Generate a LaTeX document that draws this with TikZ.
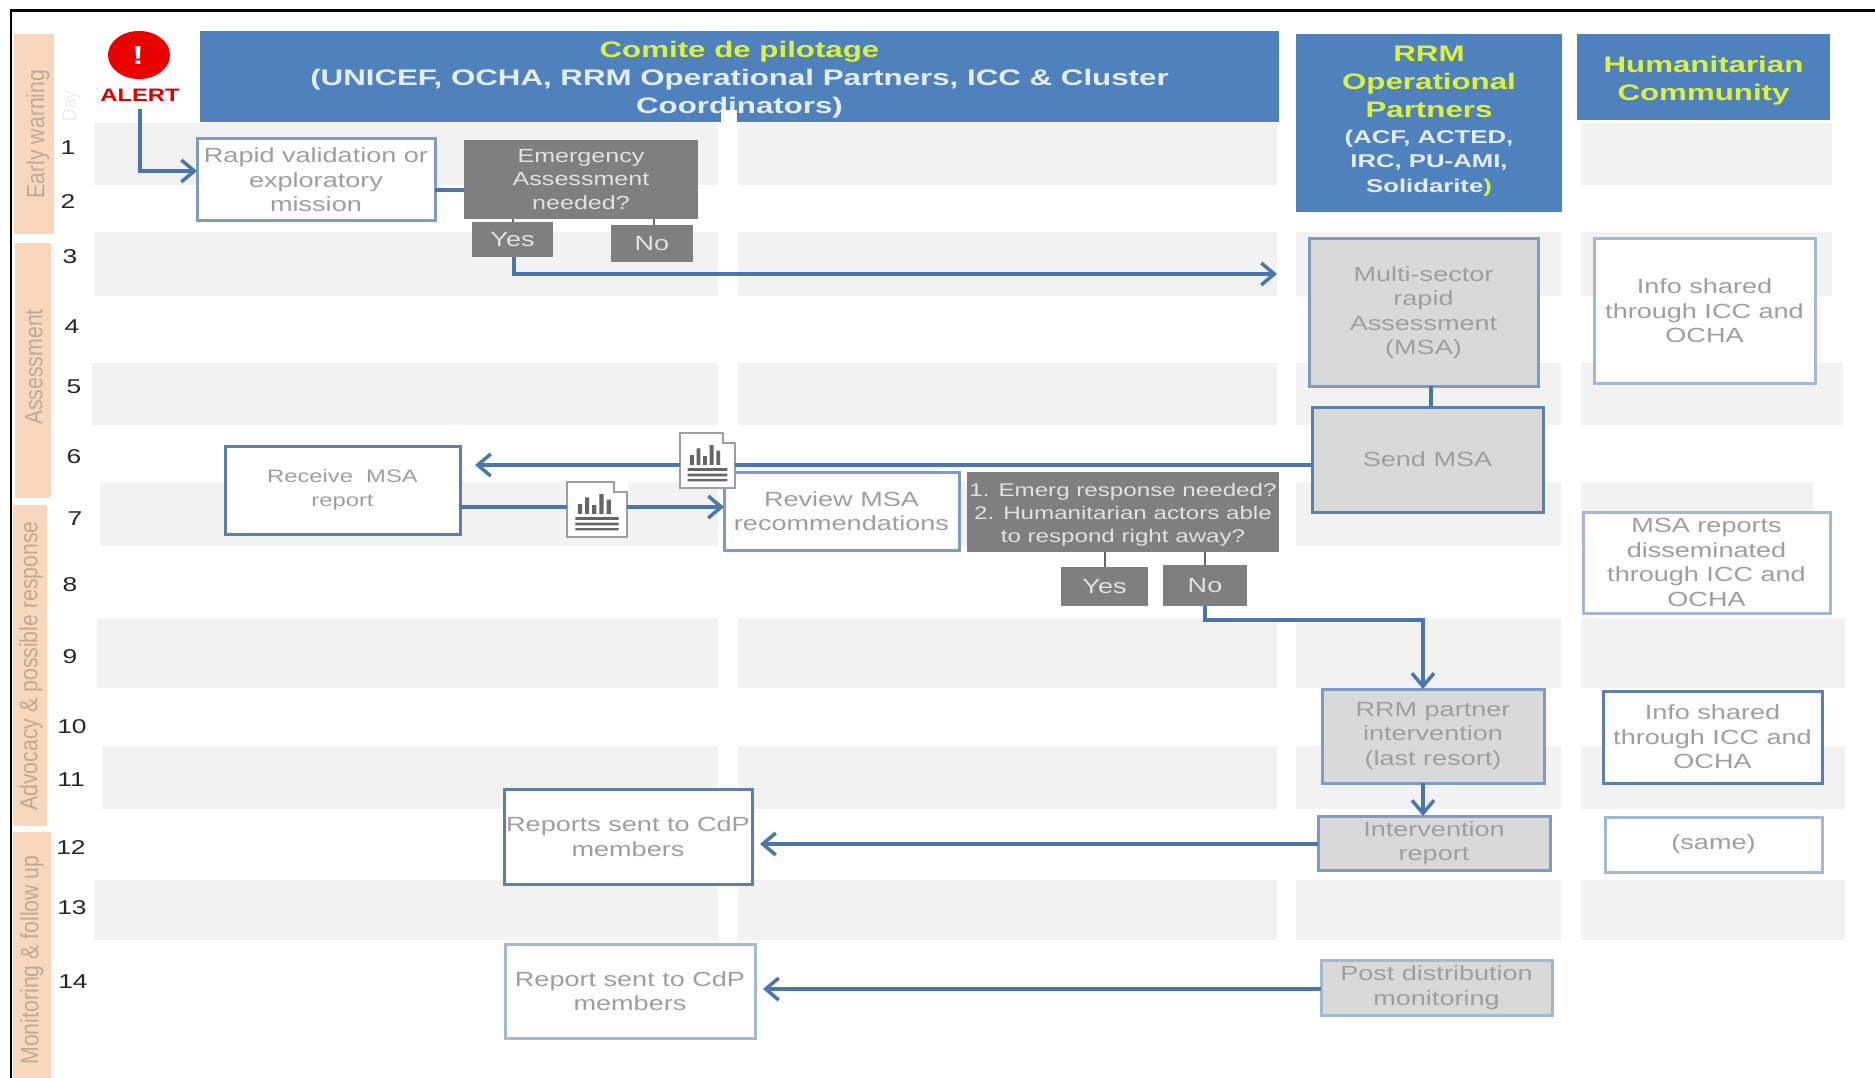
\documentclass[tikz,border=0pt]{standalone}
\usepackage{fontspec}
\usetikzlibrary{arrows.meta}
\setmainfont[FakeStretch=1.32]{Liberation Sans}
\newfontfamily\hdfont[FakeStretch=1.39]{Liberation Sans}
\newfontfamily\sidefont[FakeStretch=0.85]{Liberation Sans}
\definecolor{hdblue}{HTML}{4F81BD}
\definecolor{conn}{HTML}{4A76AD}
\definecolor{darkedge}{HTML}{5E7FA8}
\definecolor{midedge}{HTML}{7F9BC0}
\definecolor{lightedge}{HTML}{A3B8D2}
\definecolor{band}{HTML}{F2F2F2}
\definecolor{orangeb}{HTML}{F9D7BC}
\definecolor{orangetx}{HTML}{BBAA9B}
\definecolor{boxtx}{HTML}{9E9E9E}
\definecolor{greyfill}{HTML}{D9D9D9}
\definecolor{qfill}{HTML}{7F7F7F}
\definecolor{qtx}{HTML}{E2E2E2}
\definecolor{yel}{HTML}{DDF23A}
\definecolor{hdtx}{HTML}{E4EEF8}
\newcommand\bx[7][]{%
  \pgfmathsetmacro\cxv{(#3+#5)/2}\pgfmathsetmacro\cyv{(#4+#6)/2}%
  \pgfmathsetmacro\wv{#5-#3}\pgfmathsetmacro\hv{#6-#4}%
  \node[#1,minimum width=\wv pt,minimum height=\hv pt] (#2) at (\cxv,\cyv) {#7};}
\newcommand\bandrow[4]{%
  \fill[band] (#3,#1) rectangle (718,#2);
  \fill[band] (738,#1) rectangle (1277,#2);
  \fill[band] (1296,#1) rectangle (1561,#2);
  \fill[band] (1581,#1) rectangle (#4,#2);}
\newcommand\docicon[5]{%
  \bx[docbox]{#1}{#2}{#3}{#4}{#5}{}
  \begin{scope}[shift={(#2,#3)},x=\dimexpr(#4pt-#2pt)/100\relax,y=-\dimexpr(#5pt-#3pt)/100\relax]
    \fill[white] (78,-2) -- (102,18) -- (102,-2) -- cycle;
    \draw[boxtx,line width=1.5pt] (78,0) -- (78,18) -- (100,18);
    \fill[black!60] (18,58) rectangle (25,40) (30,58) rectangle (37,28)
      (42,58) rectangle (49,42) (54,58) rectangle (61,22) (66,58) rectangle (73,32);
    \fill[black!60] (14,64) rectangle (86,69) (14,74) rectangle (86,79) (14,84) rectangle (86,88);
  \end{scope}}
\tikzset{
  tbox/.style={draw=darkedge,fill=white,line width=3pt,text=boxtx,align=center,inner sep=0pt,outer sep=0pt,font=\fontsize{20.5}{24.5}\selectfont},
  tmid/.style={tbox,draw=midedge},
  tlight/.style={tbox,draw=lightedge},
  gbox/.style={tbox,fill=greyfill},
  gmid/.style={tbox,fill=greyfill,draw=midedge},
  glight/.style={tbox,fill=greyfill,draw=lightedge},
  qbox/.style={fill=qfill,text=qtx,align=center,inner sep=0pt,outer sep=0pt,font=\fontsize{20.5}{23.5}\selectfont},
  hdbox/.style={fill=hdblue,align=center,inner sep=0pt,outer sep=0pt,font=\hdfont\bfseries\fontsize{22.5}{28}\selectfont},
  sidebar/.style={fill=orangeb,inner sep=0pt,outer sep=0pt},
  sidetx/.style={rotate=90,text=orangetx,inner sep=0pt,font=\sidefont\fontsize{25}{28}\selectfont},
  daynum/.style={text=black!85,inner sep=0pt,font=\fontsize{20}{22}\selectfont},
  docbox/.style={draw=boxtx,fill=white,line width=2pt,inner sep=0pt,outer sep=0pt},
  link/.style={draw=conn,line width=3.8pt},
  thin link/.style={draw=black!60,line width=2pt},
  tip/.style={-{Straight Barb[length=13pt,width=22pt,line width=3.5pt]},link},
}
\begin{document}
\begin{tikzpicture}[x=1pt,y=-1pt]
\useasboundingbox (0,0) rectangle (1875,1078);
\fill[white] (0,0) rectangle (1875,1078);
% grey bands
\bandrow{123}{185}{94}{1832}
\bandrow{232}{296}{94}{1832}
\bandrow{363}{425}{92}{1843}
\bandrow{482}{546}{100}{1813}
\bandrow{618}{688}{97}{1845}
\bandrow{746}{809}{102}{1845}
\bandrow{880}{940}{94}{1845}
% frame
\draw[black,line width=2.5pt] (11,1078) -- (11,10.5) -- (1875,10.5);
% phase bars
\bx[sidebar]{pA}{14}{34}{54}{234}{}
\bx[sidebar]{pB}{15}{243}{51}{498}{}
\bx[sidebar]{pC}{13}{505}{47}{826}{}
\bx[sidebar]{pD}{13}{832}{51}{1078}{}
\node[sidetx] (tA) at (38,134) {Early warning};
\node[sidetx] (tB) at (34,367) {Assessment};
\node[sidetx] (tC) at (31,666) {Advocacy \& possible response};
\node[sidetx] (tD) at (32,960) {Monitoring \& follow up};
\node[sidetx,text=black!7,font=\sidefont\fontsize{20}{22}\selectfont] (day) at (71,106) {Day};
% day numbers
\node[daynum] (n1) at (68,148) {1};
\node[daynum] (n2) at (68,202) {2};
\node[daynum] (n3) at (70,257) {3};
\node[daynum] (n4) at (72,327) {4};
\node[daynum] (n5) at (74,387) {5};
\node[daynum] (n6) at (74,457) {6};
\node[daynum] (n7) at (75,519) {7};
\node[daynum] (n8) at (70,585) {8};
\node[daynum] (n9) at (70,657) {9};
\node[daynum] (n10) at (72,727) {10};
\node[daynum] (n11) at (71,780) {11};
\node[daynum] (n12) at (71,848) {12};
\node[daynum] (n13) at (72,908) {13};
\node[daynum] (n14) at (73,982) {14};
% headers
\bx[hdbox]{hA}{200}{31}{1279}{122}{\rule{0pt}{23pt}\textcolor{yel}{Comite de pilotage}\\\textcolor{hdtx}{(UNICEF, OCHA, RRM Operational Partners, ICC \& Cluster}\\\textcolor{hdtx}{Coordinators)}}
\fill[white] (721,110) rectangle (737,122);
\bx[hdbox]{hB}{1296}{34}{1562}{212}{\textcolor{yel}{RRM}\\\textcolor{yel}{Operational}\\\textcolor{yel}{Partners}\\[-2pt]\textcolor{hdtx}{\fontsize{18.5}{24}\selectfont (ACF, ACTED,}\\[-3.5pt]\textcolor{hdtx}{\fontsize{18.5}{24}\selectfont IRC, PU-AMI,}\\[-3.5pt]\textcolor{hdtx}{\fontsize{18.5}{24}\selectfont Solidarite}\textcolor{yel}{\fontsize{18.5}{24}\selectfont )}\rule[-8pt]{0pt}{8pt}}
\bx[hdbox]{hC}{1577}{34}{1830}{120}{\rule{0pt}{23pt}\textcolor{yel}{Humanitarian}\\\textcolor{yel}{Community}}
% alert
\fill[red!92!black] (139,55) ellipse [x radius=31pt,y radius=24pt];
\node[inner sep=0pt,text=white,font=\bfseries\fontsize{26}{28}\selectfont] (bang) at (138,56) {!};
\node[inner sep=0pt,text=red!85!black,font=\bfseries\fontsize{18}{20}\selectfont] (alert) at (140,95) {ALERT};
\coordinate (alertfoot) at (140,109);
% boxes
\bx[tmid]{rapid}{197}{139}{435}{221}{Rapid validation or\\exploratory\\mission}
\bx[qbox,font=\fontsize{19}{23.5}\selectfont]{emerg}{464}{140}{698}{219}{Emergency\\Assessment\\needed?}
\bx[qbox]{yesA}{472}{222}{553}{257}{Yes}
\bx[qbox]{noA}{611}{225}{693}{262}{No}
\bx[gmid]{msa}{1309}{239}{1538}{386}{Multi-sector\\rapid\\Assessment\\(MSA)}
\bx[gbox]{send}{1312}{407}{1543}{512}{Send MSA}
\bx[tlight]{infoA}{1594}{239}{1815}{383}{Info shared\\through ICC and\\OCHA}
\bx[tbox,font=\fontsize{18}{24.5}\selectfont]{receive}{225}{446}{460}{534}{Receive\ \ MSA\\report}
\bx[tmid]{review}{724}{472}{959}{550}{Review MSA\\recommendations}
\bx[qbox,font=\fontsize{18.3}{23}\selectfont]{quest}{967}{472}{1279}{552}{\rule{0pt}{18pt}1. Emerg response needed?\\2. Humanitarian actors able\\to respond right away?}
\bx[qbox]{yesB}{1061}{567}{1148}{606}{Yes}
\bx[qbox]{noB}{1163}{565}{1247}{606}{No}
\bx[tlight]{msarep}{1583}{512}{1830}{613}{MSA reports\\disseminated\\through ICC and\\OCHA}
\bx[gmid]{rrm}{1322}{689}{1544}{783}{RRM partner\\intervention\\(last resort)}
\bx[tbox]{infoB}{1603}{691}{1822}{783}{Info shared\\through ICC and\\OCHA}
\bx[gmid]{interv}{1318}{816}{1550}{870}{Intervention\\report}
\bx[tlight]{same}{1605}{817}{1822}{872}{(same)}
\bx[tbox]{repA}{504}{789}{752}{884}{Reports sent to CdP\\members}
\bx[glight]{post}{1321}{960}{1552}{1015}{Post distribution\\monitoring}
\bx[tlight]{repB}{505}{944}{755}{1038}{Report sent to CdP\\members}
\coordinate (yesend) at (1277,274);
% connectors
\draw[tip] (alertfoot) |- (rapid.west |- 0,171);
\draw[link] (rapid.east |- 0,190) -- (emerg.west |- 0,190);
\draw[thin link] (yesA.north -| 513,0) -- (emerg.south -| 513,0);
\draw[thin link] (noA.north -| 654,0) -- (emerg.south -| 654,0);
\draw[tip] (yesA.south -| 514,0) |- (yesend);
\draw[link] (msa.south -| 1431,0) -- (send.north -| 1431,0);
\docicon{docA}{680}{433}{735}{488}
\draw[link] (send.west |- 0,465) -- (docA.east |- 0,465);
\draw[tip,shorten >=15pt] (docA.west |- 0,465) -- (receive.east |- 0,465);
\docicon{docB}{567}{482}{627}{537}
\draw[link] (receive.east |- 0,507) -- (docB.west |- 0,507);
\draw[tip] (docB.east |- 0,507) -- (review.west |- 0,507);
\draw[thin link] (quest.south -| 1105,0) -- (yesB.north -| 1105,0);
\draw[thin link] (quest.south -| 1205,0) -- (noB.north -| 1205,0);
\draw[tip] (noB.south -| 1205,0) |- (1423,620) -- (rrm.north -| 1423,0);
\draw[tip] (rrm.south -| 1423,0) -- (interv.north -| 1423,0);
\draw[tip,shorten >=8pt] (interv.west |- 0,844) -- (repA.east |- 0,844);
\draw[tip,shorten >=8pt] (post.west |- 0,989) -- (repB.east |- 0,989);
\end{tikzpicture}
\end{document}
